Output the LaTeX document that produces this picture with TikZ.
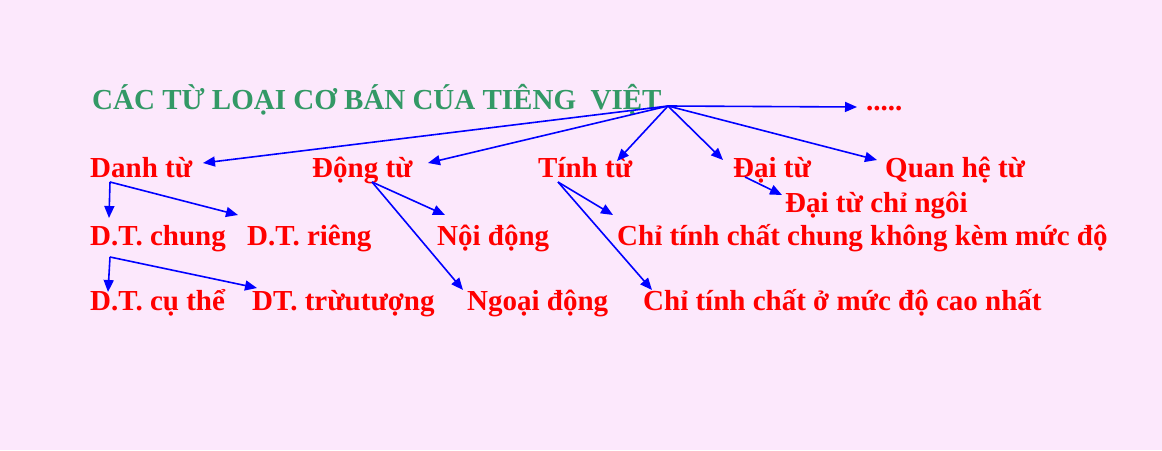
\documentclass[tikz,border=0pt]{standalone}
\usepackage{fontspec}
\setmainfont{Liberation Serif}
\usetikzlibrary{arrows.meta}
\definecolor{bgpink}{RGB}{252,232,252}
\definecolor{ttlgreen}{RGB}{51,153,102}
\definecolor{arrblue}{RGB}{0,0,255}
\begin{document}
\begin{tikzpicture}[x=1pt,y=-1pt,
  lbl/.style={anchor=base west,inner sep=0pt,text=red,font=\fontsize{29}{31}\selectfont\bfseries},
  ttlstyle/.style={anchor=base west,inner sep=0pt,text=ttlgreen,font=\fontsize{29}{31}\selectfont\bfseries},
  arr/.style={draw=arrblue,line width=1.6pt,-{Triangle[length=12pt,width=10pt]}}]
\fill[bgpink] (0,0) rectangle (1162,450);
\useasboundingbox (0,0) rectangle (1162,450);
% nodes
\node[ttlstyle] (title) at (92,109) {CÁC TỪ LOẠI CƠ BÁN CÚA TIÊNG\ \ VIỆT};
\node[lbl] (dots) at (866,110) {.....};
\node[lbl] (danh) at (90,177) {Danh từ};
\node[lbl] (dong) at (312,177) {Động từ};
\node[lbl] (tinh) at (538,177) {Tính từ};
\node[lbl] (dai) at (733,177) {Đại từ};
\node[lbl] (qh) at (885,177) {Quan hệ từ};
\node[lbl] (daichi) at (785,212) {Đại từ chỉ ngôi};
\node[lbl] (chung) at (90,245) {D.T. chung};
\node[lbl] (rieng) at (247,245) {D.T. riêng};
\node[lbl] (noi) at (437,245) {Nội động};
\node[lbl] (chitc) at (617,245) {Chỉ tính chất chung không kèm mức độ};
\node[lbl] (cuthe) at (90,310) {D.T. cụ thể};
\node[lbl] (truu) at (252,310) {DT. trừutượng};
\node[lbl] (ngoai) at (467,310) {Ngoại động};
\node[lbl] (chicao) at (643,310) {Chỉ tính chất ở mức độ cao nhất};
% connector points
\coordinate (o) at (668,106);
\coordinate (dotsIn) at (857,107);
\coordinate (danhIn) at (203,163);
\coordinate (dongIn) at (428,163);
\coordinate (tinhIn) at (617,161);
\coordinate (daiIn) at (723,160);
\coordinate (qhIn) at (877,160);
\coordinate (danhOut) at (110,182);
\coordinate (chungIn) at (109,218);
\coordinate (riengIn) at (238,215);
\coordinate (chungOut) at (110,257);
\coordinate (cutheIn) at (108,292);
\coordinate (truuIn) at (257,288);
\coordinate (dongOut) at (372,182);
\coordinate (noiIn) at (445,215);
\coordinate (ngoaiIn) at (463,290);
\coordinate (tinhOut) at (558,182);
\coordinate (chitcIn) at (613,215);
\coordinate (chicaoIn) at (652,290);
\coordinate (daiOut) at (745,177);
\coordinate (daichiIn) at (782,195);
% connectors
\draw[arr] (o) -- (dotsIn);
\draw[arr] (o) -- (danhIn);
\draw[arr] (o) -- (dongIn);
\draw[arr] (o) -- (tinhIn);
\draw[arr] (o) -- (daiIn);
\draw[arr] (o) -- (qhIn);
\draw[arr] (danhOut) -- (chungIn);
\draw[arr] (danhOut) -- (riengIn);
\draw[arr] (chungOut) -- (cutheIn);
\draw[arr] (chungOut) -- (truuIn);
\draw[arr] (dongOut) -- (noiIn);
\draw[arr] (dongOut) -- (ngoaiIn);
\draw[arr] (tinhOut) -- (chitcIn);
\draw[arr] (tinhOut) -- (chicaoIn);
\draw[arr] (daiOut) -- (daichiIn);
\end{tikzpicture}
\end{document}
